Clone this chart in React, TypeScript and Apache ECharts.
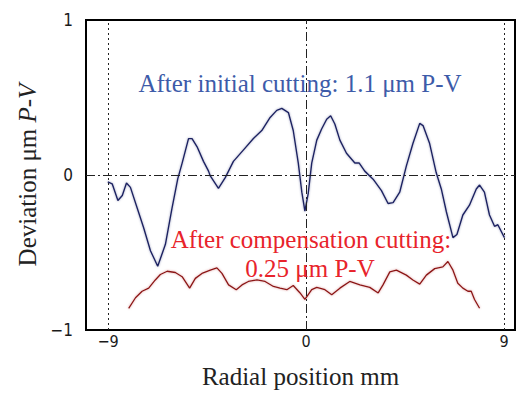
import React, { useEffect, useRef } from "react";
import * as echarts from "echarts";

// Initial cutting profile (blue)
const initialX = [-9.01, -8.81, -8.55, -8.35, -8.16, -7.98, -7.67, -7.38, -7.07, -6.74, -6.39, -6.09, -5.83, -5.63, -5.34, -5.18, -4.95, -4.66, -4.43, -4.35, -3.98, -3.67, -3.30, -2.84, -2.39, -2.01, -1.63, -1.33, -1.10, -0.80, -0.58, -0.35, -0.19, -0.05, 0.10, 0.26, 0.49, 0.71, 0.94, 1.12, 1.31, 1.54, 1.84, 2.22, 2.42, 2.67, 3.05, 3.43, 3.73, 3.96, 4.26, 4.56, 4.86, 5.17, 5.32, 5.62, 5.92, 6.15, 6.38, 6.68, 6.86, 7.13, 7.43, 7.74, 7.89, 8.11, 8.34, 8.57, 8.72, 9.02];
const initialY = [-0.044, -0.057, -0.164, -0.132, -0.052, -0.080, -0.214, -0.340, -0.489, -0.589, -0.447, -0.214, -0.025, 0.077, 0.235, 0.235, 0.182, 0.088, 0.025, -0.006, -0.086, -0.017, 0.088, 0.162, 0.235, 0.287, 0.371, 0.417, 0.430, 0.403, 0.287, 0.077, -0.111, -0.233, -0.120, 0.077, 0.225, 0.297, 0.360, 0.382, 0.329, 0.225, 0.140, 0.077, 0.077, 0.025, -0.027, -0.101, -0.184, -0.178, -0.111, 0.057, 0.203, 0.333, 0.319, 0.203, 0.014, -0.090, -0.237, -0.404, -0.384, -0.258, -0.195, -0.090, -0.065, -0.111, -0.258, -0.331, -0.321, -0.404];

// Compensation cutting profile (red)
const compX = [-8.06, -7.75, -7.45, -7.15, -6.85, -6.62, -6.31, -5.94, -5.63, -5.29, -5.03, -4.73, -4.35, -4.05, -3.82, -3.52, -3.17, -2.91, -2.62, -2.23, -1.86, -1.48, -1.18, -0.87, -0.58, -0.27, -0.05, 0.26, 0.49, 0.86, 1.17, 1.54, 1.99, 2.45, 2.90, 3.28, 3.50, 3.81, 4.11, 4.56, 4.86, 5.17, 5.47, 5.85, 6.22, 6.45, 6.68, 6.90, 7.13, 7.36, 7.51, 7.66, 7.89];
const compY = [-0.860, -0.792, -0.750, -0.730, -0.677, -0.642, -0.621, -0.629, -0.656, -0.730, -0.667, -0.635, -0.614, -0.599, -0.635, -0.709, -0.740, -0.709, -0.687, -0.677, -0.687, -0.719, -0.730, -0.740, -0.713, -0.761, -0.803, -0.740, -0.725, -0.740, -0.772, -0.730, -0.687, -0.709, -0.725, -0.761, -0.709, -0.625, -0.614, -0.646, -0.677, -0.704, -0.646, -0.604, -0.593, -0.558, -0.614, -0.698, -0.730, -0.750, -0.750, -0.803, -0.860];

const xTicks = [-9, 0, 9];
const yTicks = [-1, 0, 1];
const guideX = [-9, 0, 9];

const serif = "Liberation Serif";
const tickFont = "'DejaVu Sans Condensed', 'Liberation Sans Narrow', 'DejaVu Sans', sans-serif";
const titleSize = 25;

export default function App() {
  const ref = useRef<HTMLDivElement>(null);
  useEffect(() => {
    if (!ref.current) return;
    const chart = echarts.init(ref.current, null, { renderer: "svg" });
    const dashDot = [9, 3, 2, 3];
    const fmt = (v: number) => (v < 0 ? "\u2212" + Math.abs(v) : String(v));
    const option = {
      animation: false,
      backgroundColor: "#ffffff",
      grid: {
        left: 86,
        top: 20,
        width: 429,
        height: 318,
        show: true,
        borderColor: "#000",
        borderWidth: 2,
        backgroundColor: "transparent",
      },
      xAxis: {
        type: "value",
        min: -10,
        max: 9.5,
        splitLine: { show: false },
        axisLine: { show: false },
        axisTick: { show: false },
        axisLabel: {
          customValues: xTicks,
          formatter: fmt,
          fontFamily: tickFont,
          fontSize: 16,
          color: "#1a1a1a",
          margin: 3,
        },
        name: "Radial position mm",
        nameLocation: "middle",
        nameGap: 34,
        nameTextStyle: { fontFamily: serif, fontSize: titleSize, color: "#222" },
      },
      yAxis: {
        type: "value",
        min: -1,
        max: 1,
        splitLine: { show: false },
        axisLine: { show: false },
        axisTick: { show: false },
        axisLabel: {
          customValues: yTicks,
          formatter: fmt,
          fontFamily: tickFont,
          fontSize: 17,
          color: "#1a1a1a",
          margin: 13,
        },
        name: "{a|Deviation μm }{b|P-V}",
        nameLocation: "middle",
        nameGap: 45,
        nameTextStyle: {
          rich: {
            a: { fontFamily: serif, fontSize: titleSize, color: "#222" },
            b: { fontFamily: serif, fontSize: titleSize, color: "#222", fontStyle: "italic" },
          },
        },
      },
      series: [
        {
          type: "line",
          data: initialX.map((x, i) => [x, initialY[i]]),
          showSymbol: false,
          lineStyle: {
            color: "#1d2262",
            width: 1.4,
            shadowColor: "rgba(90,100,150,0.6)",
            shadowBlur: 2,
          },
          markLine: {
            silent: true,
            symbol: "none",
            label: { show: false },
            data: [
              ...guideX.map((x) => ({
                xAxis: x,
                lineStyle: {
                  color: "#222",
                  width: 1,
                  type: x === 0 ? dashDot : [2, 3],
                },
              })),
              { yAxis: 0, lineStyle: { color: "#222", width: 1.2, type: dashDot } },
            ],
          },
          z: 3,
        },
        {
          type: "line",
          data: compX.map((x, i) => [x, compY[i]]),
          showSymbol: false,
          lineStyle: {
            color: "#8c1616",
            width: 1.3,
            shadowColor: "rgba(200,90,90,0.6)",
            shadowBlur: 2,
          },
          z: 3,
        },
      ],
      graphic: [
        {
          type: "text",
          x: 300,
          y: 83,
          style: {
            text: "After initial cutting: 1.1 μm P-V",
            fontFamily: serif,
            fontSize: titleSize,
            fill: "#3d5ba9",
            textAlign: "center",
            textVerticalAlign: "middle",
          },
          z: 10,
        },
        {
          type: "text",
          x: 311,
          y: 239,
          style: {
            text: "After compensation cutting:",
            fontFamily: serif,
            fontSize: titleSize,
            fill: "#e8232b",
            textAlign: "center",
            textVerticalAlign: "middle",
          },
          z: 10,
        },
        {
          type: "text",
          x: 310,
          y: 268,
          style: {
            text: "0.25 μm P-V",
            fontFamily: serif,
            fontSize: titleSize,
            fill: "#e8232b",
            textAlign: "center",
            textVerticalAlign: "middle",
          },
          z: 10,
        },
      ],
    };
    chart.setOption(option as any);
    return () => chart.dispose();
  }, []);
  return <div ref={ref} style={{ width: 516, height: 394, position: "absolute", left: 0, top: 0 }} />;
}
